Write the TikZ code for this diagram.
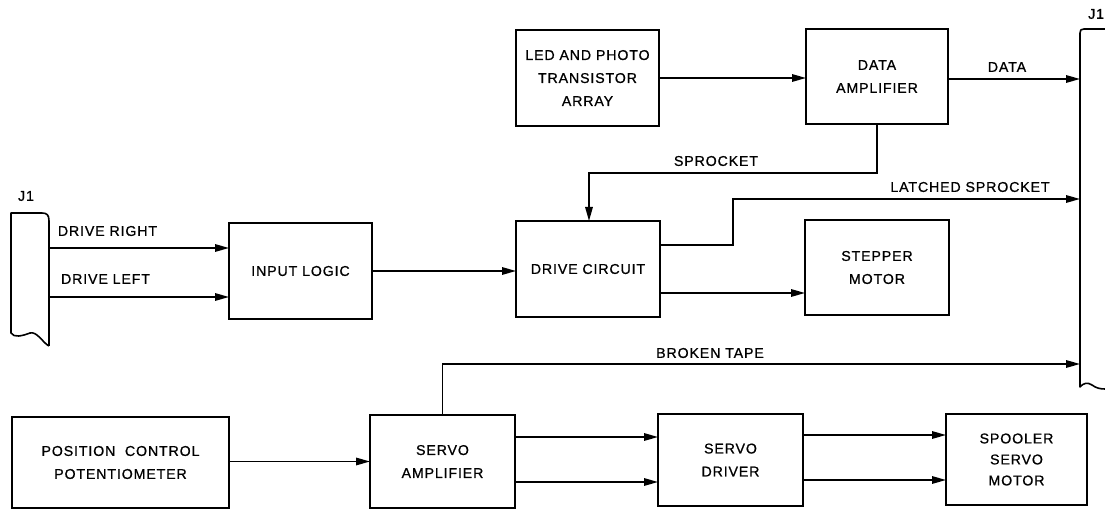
\documentclass[tikz,border=0pt]{standalone}
\usepackage{fontspec}
\setmainfont{Liberation Sans}[LetterSpace=6.0,FakeBold=0.8]
\usetikzlibrary{arrows.meta,calc}
\begin{document}
\begin{tikzpicture}[x=1pt,y=-1pt,
  every node/.style={font=\fontsize{14.2}{23}\selectfont},
  blk/.style={draw,line width=1.6pt,inner sep=0pt,outer sep=0pt,align=center},
  wire/.style={line width=1.6pt},
  arr/.style={wire,-{Triangle[length=14pt,width=7.5pt]}},
  lbl/.style={inner sep=0pt}]
\useasboundingbox (0,0) rectangle (1105,510);

% blocks
\node[blk,minimum width=143pt,minimum height=96pt] (led) at (587.5,78) {LED AND PHOTO\\TRANSISTOR\\ARRAY};
\node[blk,minimum width=142pt,minimum height=95pt] (dataamp) at (877,76.5) {DATA\\AMPLIFIER};
\node[blk,minimum width=143pt,minimum height=96pt] (input) at (300.5,271) {INPUT LOGIC};
\node[blk,minimum width=144pt,minimum height=96pt] (drive) at (588,269) {DRIVE CIRCUIT};
\node[blk,minimum width=144pt,minimum height=95pt] (stepper) at (877,267.5) {STEPPER\\MOTOR};
\node[blk,minimum width=217pt,minimum height=91pt] (poscontrol) at (120.5,462.5) {POSITION\ \ CONTROL\\POTENTIOMETER};
\node[blk,minimum width=145pt,minimum height=93pt] (servoamp) at (442.5,461.5) {SERVO\\AMPLIFIER};
\node[blk,minimum width=145pt,minimum height=92pt] (servodrv) at (730.5,460) {SERVO\\DRIVER};
\node[blk,minimum width=141pt,minimum height=91pt,font=\fontsize{14.2}{21}\selectfont] (spooler) at (1016.5,459.5) {SPOOLER\\SERVO\\MOTOR};

% connectors J1 (left)
\node[lbl] (j1l) at (26,196) {J1};
\draw[wire,line join=round] (49,346) -- (49,221) .. controls (49,215) and (47,213) .. (42,213) -- (11,213) -- (11,333)
  .. controls (14,338) and (22,336) .. (30,333) .. controls (37,331) and (43,343) .. (49,346);
% connector J1 (right)
\node[lbl,anchor=west] (j1r) at (1088,14) {J1};
\draw[wire,line join=round] (1105,29) -- (1084,29) .. controls (1081,29) and (1080,30) .. (1080,33) -- (1080,387)
  .. controls (1083,383) and (1088,382) .. (1092,385) .. controls (1096,388) and (1100,389) .. (1105,389);

\coordinate (jdr) at (49,248);
\coordinate (jdl) at (49,297);
\coordinate (jdata) at (1080,79);
\coordinate (jlatch) at (1080,199);
\coordinate (jbroken) at (1080,364);
\coordinate (spk) at (589,173);
\coordinate (lbend) at (733,245);
\coordinate (dstep) at (700,293);
\coordinate (sa1) at (600,437);
\coordinate (sa2) at (600,482);
\coordinate (sd1) at (870,435);
\coordinate (sd2) at (870,480);

% wires
\draw[arr] (jdr) -- (jdr -| input.west);
\draw[arr] (jdl) -- (jdl -| input.west);
\draw[arr] (input.east) -- (input.east -| drive.west);
\draw[arr] (led.east) -- (led.east -| dataamp.west);
\draw[arr] (dataamp.east |- jdata) -- (jdata);
\draw[arr] (dataamp.south) |- (spk) -- (spk |- drive.north);
\draw[arr] (drive.east |- lbend) -- (lbend) |- (jlatch);
\draw[arr] (drive.east |- dstep) -- (stepper.west |- dstep);
\draw[arr] (poscontrol.east |- servoamp.west) -- (servoamp.west);
\draw[arr] (servoamp.north) |- (jbroken);
\draw[arr] (servoamp.east |- sa1) -- (servodrv.west |- sa1);
\draw[arr] (servoamp.east |- sa2) -- (servodrv.west |- sa2);
\draw[arr] (servodrv.east |- sd1) -- (spooler.west |- sd1);
\draw[arr] (servodrv.east |- sd2) -- (spooler.west |- sd2);

% labels
\node[lbl] (tdr) at (107.5,231) {DRIVE RIGHT};
\node[lbl] (tdl) at (105.5,279) {DRIVE LEFT};
\node[lbl] (tdata) at (1007,67) {DATA};
\node[lbl] (tspk) at (716,161) {SPROCKET};
\node[lbl] (tlatch) at (970,187) {LATCHED SPROCKET};
\node[lbl] (tbroken) at (710,353) {BROKEN TAPE};
\end{tikzpicture}
\end{document}
